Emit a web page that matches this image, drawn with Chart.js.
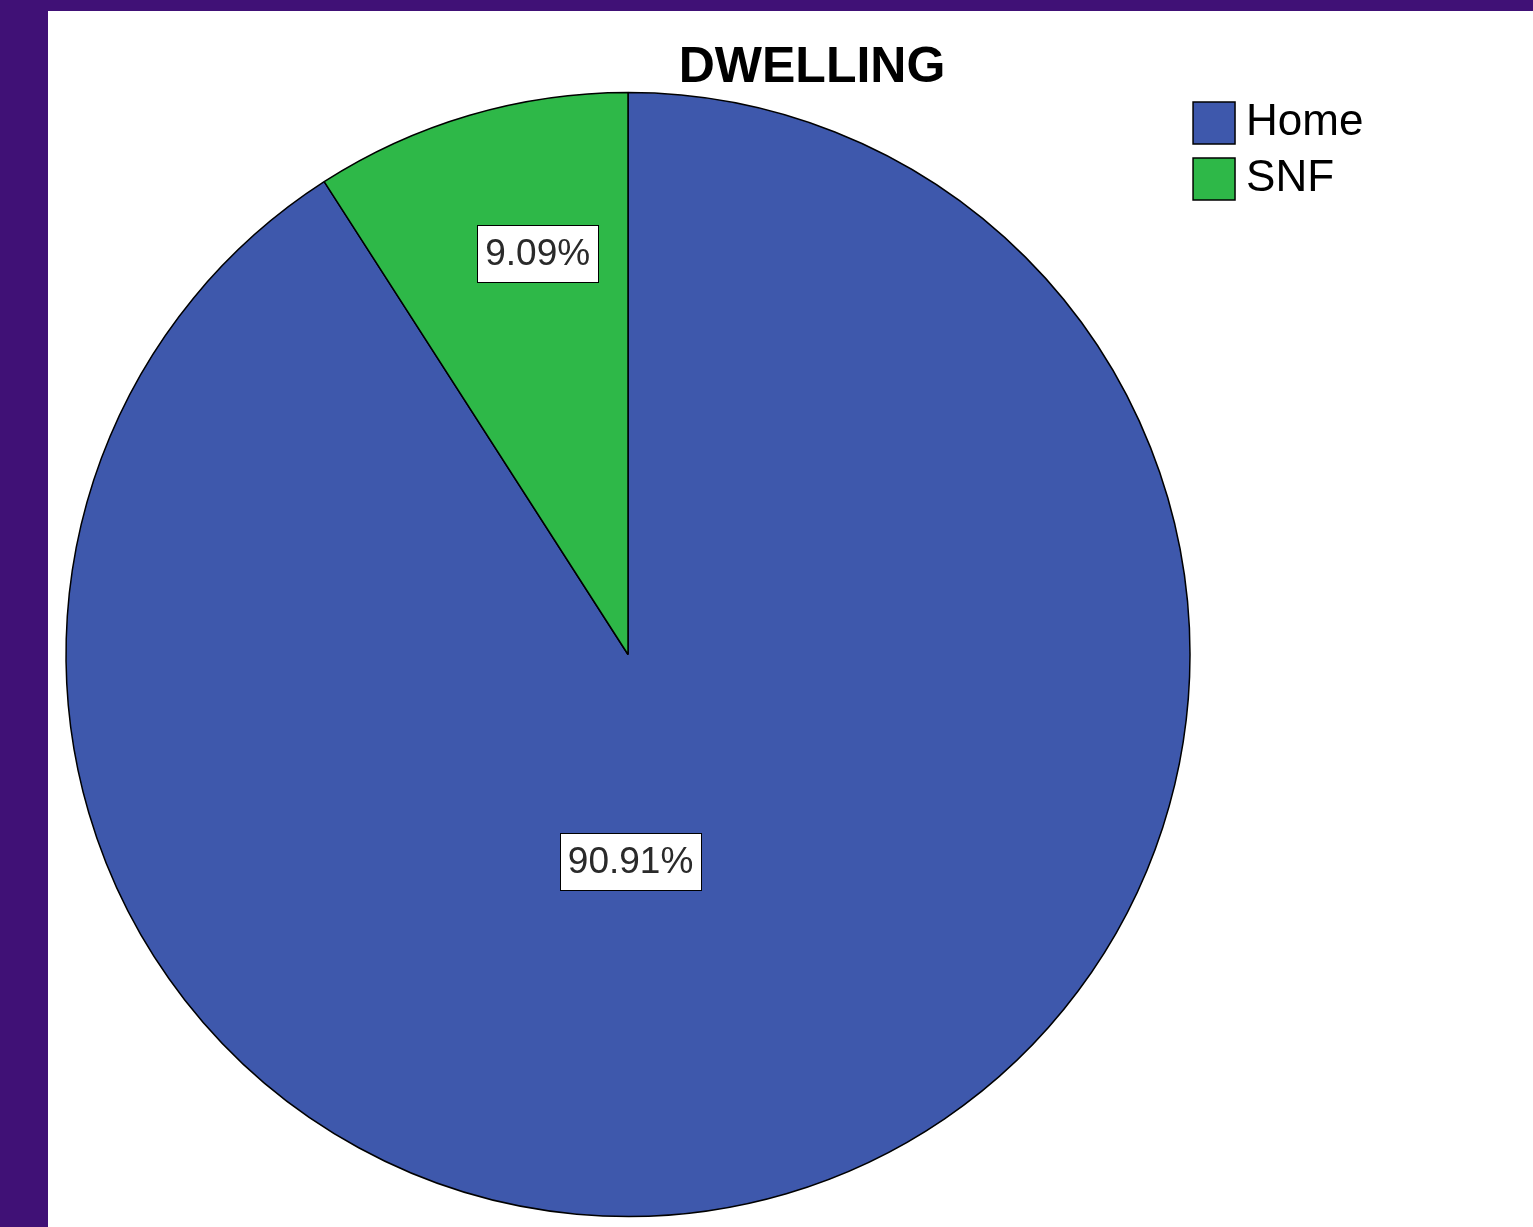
<!DOCTYPE html>
<html>
<head>
<meta charset="utf-8">
<title>DWELLING</title>
<script src="https://cdn.jsdelivr.net/npm/chart.js@4/dist/chart.umd.min.js"></script>
<style>
  html, body { margin: 0; padding: 0; background: #401176; overflow: hidden; }
  #frame { position: absolute; left: 48px; top: 11px; width: 1485px; height: 1216px; background: #fff; }
</style>
</head>
<body>
<div id="frame"><canvas id="pieChart" width="1485" height="1216"></canvas></div>
<script>
const categories = ['Home', 'SNF'];
const counts = [10, 1];
const sliceColors = ['#3e58ac', '#2eb848'];
const chartTitle = 'DWELLING';

const FONT = "'Liberation Sans', Arial, sans-serif";

// white percentage boxes on the slices, like the SPSS output
const percentLabels = {
  id: 'percentLabels',
  afterDatasetsDraw(chart, args, opts) {
    const ctx = chart.ctx;
    const meta = chart.getDatasetMeta(0);
    const values = chart.data.datasets[0].data;
    const total = values.reduce((a, b) => a + b, 0);
    ctx.save();
    ctx.font = opts.fontSize + 'px ' + FONT;
    ctx.textAlign = 'center';
    ctx.textBaseline = 'middle';
    meta.data.forEach((arc, i) => {
      const p = arc.getProps(['x', 'y', 'outerRadius'], true);
      const place = opts.places[i];
      const a = place.angle * Math.PI / 180;
      const cx = p.x + Math.cos(a) * p.outerRadius * place.r;
      const cy = p.y + Math.sin(a) * p.outerRadius * place.r;
      const text = (values[i] / total * 100).toFixed(2) + '%';
      const w = Math.round(ctx.measureText(text).width + opts.padX * 2);
      const h = opts.boxHeight;
      const bx = Math.round(cx - w / 2) + 0.5;
      const by = Math.round(cy - h / 2) + 0.5;
      ctx.fillStyle = '#fff';
      ctx.fillRect(bx, by, w, h);
      ctx.strokeStyle = '#000';
      ctx.lineWidth = 1;
      ctx.strokeRect(bx, by, w, h);
      ctx.fillStyle = '#2a2a2a';
      ctx.fillText(text, cx, cy + 1);
    });
    ctx.restore();
  }
};

new Chart(document.getElementById('pieChart'), {
  type: 'pie',
  data: {
    labels: categories,
    datasets: [{
      data: counts,
      backgroundColor: sliceColors,
      borderColor: '#000',
      borderWidth: 1.5,
      radius: 562,
      clip: false
    }]
  },
  options: {
    responsive: false,
    animation: false,
    events: [],
    layout: {
      padding: { left: 16, right: -27, top: 0, bottom: 16.5 }
    },
    plugins: {
      title: {
        display: true,
        text: chartTitle,
        color: '#000',
        font: { family: FONT, size: 50, weight: 'bold', lineHeight: 1.2 },
        padding: { top: 27.5, bottom: 0 }
      },
      // empty box right of the legend, so the title centres over the whole frame
      subtitle: {
        display: true,
        text: '',
        position: 'right',
        font: { size: 1, lineHeight: 1 },
        padding: { top: 0, bottom: 185.6 }
      },
      legend: {
        position: 'right',
        align: 'start',
        title: {
          display: true,
          text: '',
          font: { size: 10, lineHeight: 1 },
          padding: { top: 68, bottom: 0 }
        },
        labels: {
          font: { family: FONT, size: 44 },
          color: '#000',
          usePointStyle: true,
          pointStyle: 'rect',
          boxWidth: 20,
          boxHeight: 42,
          padding: 12
        }
      },
      tooltip: { enabled: false },
      percentLabels: {
        fontSize: 37,
        padX: 8,
        boxHeight: 57,
        places: [{ r: 0.368, angle: 89.3 }, { r: 0.731, angle: -102.7 }]
      }
    }
  },
  plugins: [percentLabels]
});
</script>
</body>
</html>
